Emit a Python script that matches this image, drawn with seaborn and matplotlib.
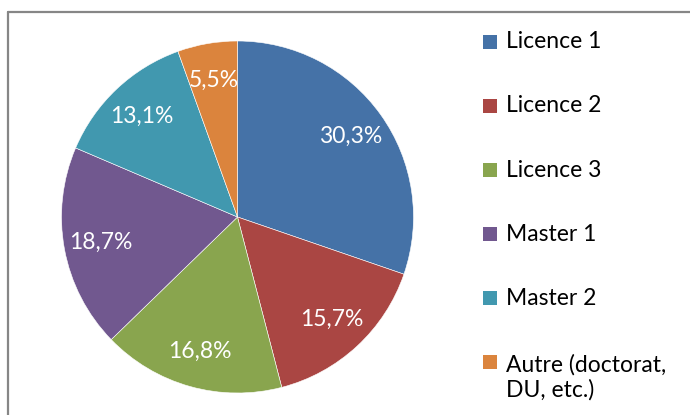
import textwrap
import matplotlib
matplotlib.use("Agg")
import matplotlib.pyplot as plt
from matplotlib.lines import Line2D
from matplotlib.patches import Rectangle
import seaborn as sns

# ---- data ----
categories = ["Licence 1", "Licence 2", "Licence 3", "Master 1", "Master 2",
              "Autre (doctorat, DU, etc.)"]
shares = [30.3, 15.7, 16.8, 18.7, 13.1, 5.5]
colors = ["#4572A7", "#AA4643", "#89A54E", "#71588F", "#4198AF", "#DB843D"]

sns.set_theme(style="white")
plt.rcParams["font.family"] = ["Lato", "DejaVu Sans"]

W, H = 690, 415
fig = plt.figure(figsize=(W / 100, H / 100), dpi=100)
fig.patch.set_facecolor("white")

# pie axes: center (237.5, 217 from top), radius 176 px
cx, cy, R = 237.5, H - 217, 176
ax = fig.add_axes([(cx - R) / W, (cy - R) / H, 2 * R / W, 2 * R / H])
palette = sns.color_palette(colors)

label_iter = iter(shares)
def fmt(_p):
    v = next(label_iter)
    return f"{v:.1f}%".replace(".", ",")

wedges, texts, autotexts = ax.pie(
    shares, colors=palette, startangle=90, counterclock=False, radius=1,
    autopct=fmt, pctdistance=0.79,
    wedgeprops=dict(edgecolor="white", linewidth=0.4),
    textprops=dict(color="white", fontsize=16.5),
)
ax.set_xlim(-1, 1)
ax.set_ylim(-1, 1)
ax.set_aspect("equal")
ax.axis("off")

# legend drawn manually (Excel style)
row0, step, line_h = 42, 64, 31.5
for i, (lab, col) in enumerate(zip(categories, palette)):
    wrapped = textwrap.fill(lab, 16)
    n = wrapped.count("\n") + 1
    yc = row0 + step * i
    fig.add_artist(Rectangle(((483) / W, (H - yc - 7) / H), 14 / W, 14 / H,
                             transform=fig.transFigure, facecolor=col,
                             edgecolor="none"))
    ty = yc + (n - 1) * line_h / 2
    fig.text(506 / W, (H - ty) / H, wrapped, ha="left", va="center",
             fontsize=16.5, color="black", linespacing=1.2)

# chart frame (gray border, open at right/bottom)
frame_col = "#868686"
fig.add_artist(Line2D([8 / W, 8 / W], [0, (H - 12) / H], color=frame_col,
                      lw=1.6, transform=fig.transFigure))
fig.add_artist(Line2D([8 / W, 1], [(H - 12) / H, (H - 12) / H], color=frame_col,
                      lw=1.6, transform=fig.transFigure))

fig.savefig("out.png", dpi=100)
